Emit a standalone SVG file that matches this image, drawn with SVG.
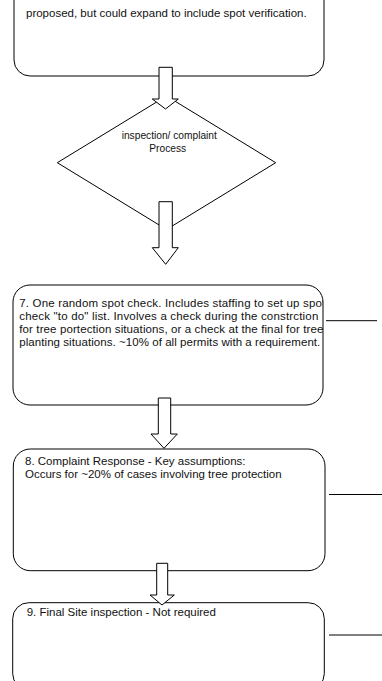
<svg xmlns="http://www.w3.org/2000/svg" width="382" height="681" viewBox="0 0 382 681">
<style>
.box{fill:#fff;stroke:#000;stroke-width:1}
.t{font-family:"Liberation Sans",Arial,sans-serif;font-size:11.5px;fill:#111}
.d{font-family:"Liberation Sans",Arial,sans-serif;font-size:10.2px;fill:#111}
.arr{fill:#fff;stroke:#000;stroke-width:1;stroke-linejoin:miter}
.ln{stroke:#000;stroke-width:1;fill:none}
</style>
<defs>
<clipPath id="c7"><rect x="13" y="285" width="310" height="120"/></clipPath>
</defs>
<rect width="382" height="681" fill="#fff"/>
<g id="node-top">
<rect class="box" x="14" y="-60" width="310" height="136" rx="16" ry="16"/>
<text class="t" x="26" y="17.3">proposed, but could expand to include spot verification.</text>
</g>
<g id="node-decision">
<polygon class="box" points="166.5,96 275.7,162.7 166.5,229.5 57.3,162.7"/>
<text class="d" x="121.7" y="138.5">inspection/ complaint</text>
<text class="d" x="149.3" y="151.7">Process</text>
</g>
<g id="node-7">
<rect class="box" x="13" y="285" width="310" height="120" rx="17" ry="17"/>
<g clip-path="url(#c7)">
<text class="t" x="19.3" y="306.5" textLength="306" lengthAdjust="spacing">7. One random spot check. Includes staffing to set up spot</text>
<text class="t" x="19.3" y="319.5" textLength="299" lengthAdjust="spacing">check "to do" list. Involves a check during the constrction</text>
<text class="t" x="19.3" y="332.5" textLength="304" lengthAdjust="spacing">for tree portection situations, or a check at the final for tree</text>
<text class="t" x="19.3" y="345.5" textLength="301" lengthAdjust="spacing">planting situations. ~10% of all permits with a requirement.</text>
</g>
</g>
<g id="node-8">
<rect class="box" x="13.3" y="449" width="311.7" height="121.7" rx="17" ry="17"/>
<text class="t" x="25" y="465">8. Complaint Response - Key assumptions:</text>
<text class="t" x="25" y="478">Occurs for ~20% of cases involving tree protection</text>
</g>
<g id="node-9">
<rect class="box" x="12.7" y="602.7" width="311.6" height="87" rx="16" ry="16"/>
<text class="t" x="26.7" y="616">9. Final Site inspection - Not required</text>
</g>
<g id="connectors">
<polygon class="arr" points="159,67.3 172.3,67.3 172.3,99 178.3,99 165.5,109 152.3,99 159,99"/>
<polygon class="arr" points="159,201.7 172.3,201.7 172.3,247.7 178.3,247.7 165.7,264.3 152.3,247.7 159,247.7"/>
<polygon class="arr" points="158.3,398 170.7,398 170.7,434 177.3,434 164,448.3 151,434 158.3,434"/>
<polygon class="arr" points="156.7,563.3 167.7,563.3 167.7,595 174.3,595 162,605 150,595 156.7,595"/>
<line class="ln" x1="326" y1="320.7" x2="377" y2="320.7"/>
<line class="ln" x1="329" y1="494.5" x2="382" y2="494.5"/>
<line class="ln" x1="329" y1="635" x2="382" y2="635"/>
</g>
</svg>
